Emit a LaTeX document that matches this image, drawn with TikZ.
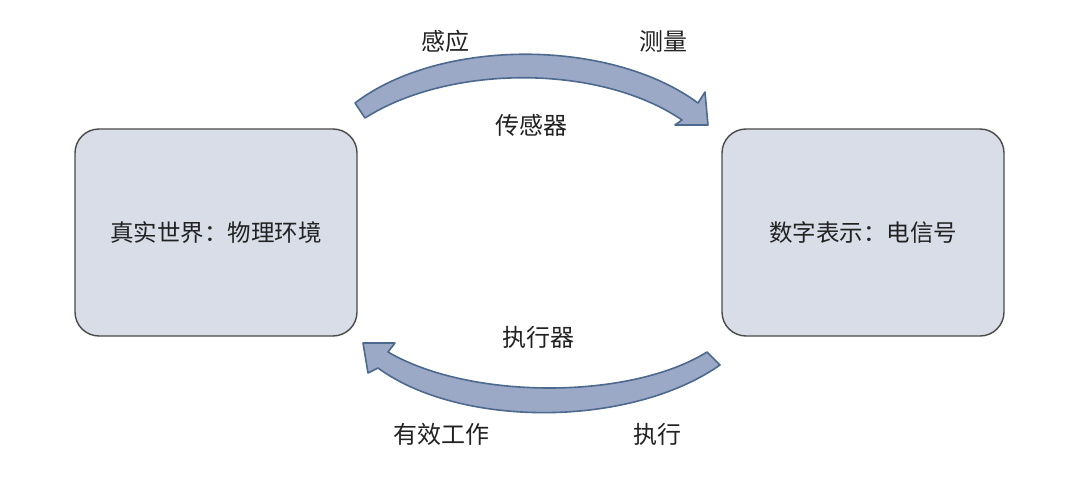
\documentclass[tikz,border=0pt]{standalone}
\usepackage{fontspec}
\newfontfamily\cjk{Noto Sans CJK SC}
\definecolor{boxfill}{HTML}{D9DDE7}
\definecolor{boxline}{HTML}{4A4A4A}
\definecolor{arrfill}{HTML}{9BA8C6}
\definecolor{arrline}{HTML}{4D6A8E}
\definecolor{txt}{HTML}{222222}
\tikzset{
  worldbox/.style={draw=boxline, line width=1.4pt, fill=boxfill, rounded corners=24pt,
    minimum width=282pt, minimum height=207pt, inner sep=0pt,
    font=\cjk\fontsize{23.5}{26}\selectfont, text=txt},
  lbl/.style={font=\cjk\fontsize{24}{28}\selectfont, text=txt, inner sep=0pt},
  band/.style={draw=arrline, line width=1.6pt, fill=arrfill, line join=round}
}
\begin{document}
\begin{tikzpicture}[x=1pt,y=-1pt]
\useasboundingbox[fill=white] (0,0) rectangle (1078,484);
\node[worldbox] (real) at (216,232.5) {真实世界：物理环境};
\node[worldbox] (digi) at (863,232.5) {数字表示：电信号};
% top curved arrow (sensing)
\coordinate (t1) at (355,103);
\coordinate (t2) at (698,103);
\draw[band] (t1) .. controls (440,38) and (610,38) .. (t2)
  -- (705,92) -- (708,125) -- (675,125) -- (682,120)
  .. controls (600,64) and (450,64) .. (365,118) -- cycle;
% bottom curved arrow (actuation)
\coordinate (b1) at (720,365);
\coordinate (b2) at (378,368);
\draw[band] (b1) .. controls (630,428) and (460,428) .. (b2)
  -- (368,373) -- (363,343) -- (395,343) -- (388,352)
  .. controls (470,400) and (630,400) .. (707,352) -- cycle;
\node[lbl] (ganying) at (445,41) {感应};
\node[lbl] (celiang) at (663,41) {测量};
\node[lbl] (sensor) at (531,125) {传感器};
\node[lbl] (actuator) at (538,337) {执行器};
\node[lbl] (work) at (441,434) {有效工作};
\node[lbl] (exec) at (657,434) {执行};
\end{tikzpicture}
\end{document}
